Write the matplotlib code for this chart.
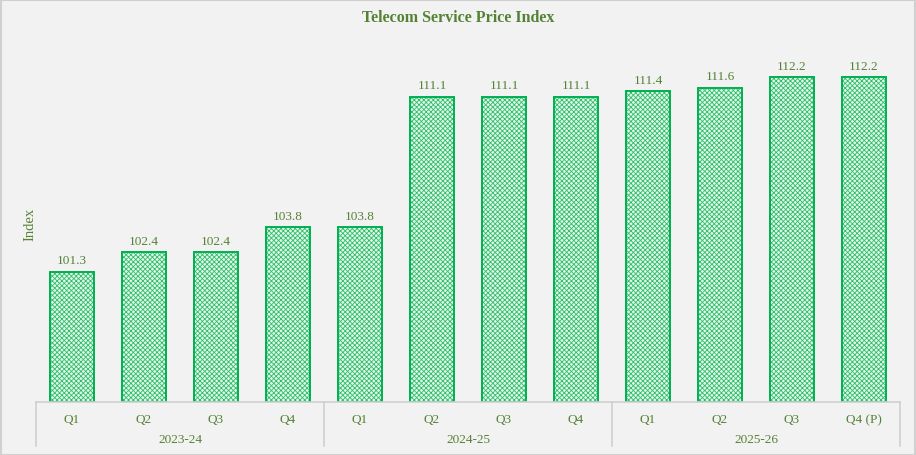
import matplotlib
matplotlib.use("Agg")
import matplotlib.pyplot as plt
from matplotlib.patches import Rectangle
from matplotlib.lines import Line2D
import matplotlib.transforms as mtransforms

quarters = ["Q1", "Q2", "Q3", "Q4", "Q1", "Q2", "Q3", "Q4", "Q1", "Q2", "Q3", "Q4 (P)"]
years = ["2023-24", "2024-25", "2025-26"]
values = [101.3, 102.4, 102.4, 103.8, 103.8, 111.1, 111.1, 111.1, 111.4, 111.6, 112.2, 112.2]
value_labels = ["101.3", "102.4", "102.4", "103.8", "103.8", "111.1", "111.1", "111.1",
                "111.4", "111.6", "112.2", "112.2"]

plt.rcParams['font.family'] = ['Liberation Serif', 'DejaVu Serif']
plt.rcParams['hatch.linewidth'] = 0.6
plt.rcParams['hatch.color'] = '#2fbf6c'

W, H = 916, 456
fig = plt.figure(figsize=(W / 100, H / 100), dpi=100)
fig.patch.set_facecolor('#F2F2F2')
fig.add_artist(Rectangle((0.5 / W, 0.5 / H), 1 - 1.5 / W, 1 - 1.5 / H, transform=fig.transFigure,
                         fill=False, edgecolor='#D0D0D0', linewidth=1.5))

left, right = 36 / W, 900 / W
bottom, top = (H - 403) / H, (H - 46) / H
ax = fig.add_axes([left, bottom, right - left, top - bottom])
ax.set_facecolor('none')

txt = '#548235'
n = len(values)
x = list(range(n))
ax.bar(x, [v - 94 for v in values], bottom=94, width=0.6, color='#e3f6e9', hatch='xxxxxxx',
       edgecolor='#2fbf6c', linewidth=0)
ax.bar(x, [v - 94 for v in values], bottom=94, width=0.6, fill=False,
       edgecolor='#00B050', linewidth=1.4)
for xi, v, lab in zip(x, values, value_labels):
    ax.annotate(lab, (xi, v), xytext=(0, 4), textcoords='offset points', ha='center', va='bottom',
                fontsize=9.5, color=txt)

ax.set_xlim(-0.5, n - 0.5)
ax.set_ylim(94, 114)
ax.set_yticks([])
for s in ['top', 'left', 'right']:
    ax.spines[s].set_visible(False)
ax.spines['bottom'].set_color('#D0D0D0')
ax.spines['bottom'].set_linewidth(1.2)
ax.set_xticks(x)
ax.set_xticklabels(quarters, fontsize=9.5, color=txt)
ax.tick_params(axis='x', length=0, pad=8)

trans = mtransforms.blended_transform_factory(ax.transData, ax.transAxes)
depth = 44 / (403 - 46)
for b in [-0.5, 3.5, 7.5, 11.5]:
    ax.add_line(Line2D([b, b], [0, -depth], transform=trans, color='#D0D0D0', linewidth=1.2,
                       clip_on=False))
for i, yr in enumerate(years):
    ax.text(4 * i + 1.5, -37 / (403 - 46), yr, transform=trans, ha='center', va='center',
            fontsize=9.5, color=txt)

ax.set_ylabel("Index", fontsize=10.5, color=txt, labelpad=0)
fig.text(0.5, 1 - 18 / H, "Telecom Service Price Index", ha='center', va='center',
         fontsize=11.5, fontweight='bold', color=txt)

fig.savefig("out.png", dpi=100, facecolor=fig.get_facecolor())
